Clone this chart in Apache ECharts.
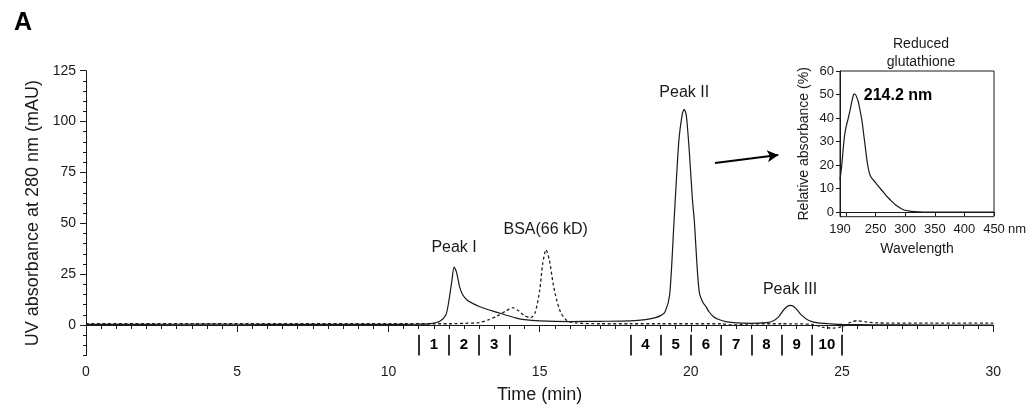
<!DOCTYPE html>
<html>
<head>
<meta charset="utf-8">
<script src="https://cdn.jsdelivr.net/npm/echarts@6/dist/echarts.min.js"></script>
<style>
  html, body { margin: 0; padding: 0; background: #fff; }
  #chart { width: 1032px; height: 412px; }
</style>
</head>
<body>
<div id="chart"></div>
<script>
// sample run (solid line)
const TIME_SAMPLE = [0, 2, 4, 6, 8, 10, 11, 11.4, 11.7, 11.9, 12.0, 12.1, 12.17, 12.25, 12.35, 12.45, 12.6, 12.8, 13.0, 13.3, 13.6, 13.9, 14.2, 14.5, 15.0, 16.0, 17.0, 18.0, 18.5, 18.8, 19.0, 19.15, 19.3, 19.44, 19.6, 19.72, 19.78, 19.85, 19.95, 20.05, 20.12, 20.2, 20.28, 20.4, 20.5, 20.6, 20.74, 20.9, 21.2, 21.5, 22.0, 22.5, 22.7, 22.9, 23.1, 23.28, 23.45, 23.65, 23.9, 24.2, 24.6, 25, 26, 28, 30]
const UV_SAMPLE = [0.3, 0.3, 0.4, 0.3, 0.3, 0.3, 0.4, 0.7, 1.8, 5, 12, 22, 28.5, 26, 19, 15, 12.3, 10.5, 9.1, 7.5, 6.2, 4.8, 3.5, 2.6, 2.0, 1.7, 1.8, 2.0, 2.6, 3.5, 4.6, 6.5, 15, 50, 90, 104, 106, 103, 85, 62, 50, 30, 16, 11, 9, 6.5, 4.2, 2.8, 1.5, 1.0, 0.8, 1.2, 1.8, 4, 8, 9.6, 8.5, 5, 2.2, 1.0, 0.6, 0.3, 0.1, 0, 0]

// BSA standard (dashed line)
const TIME_BSA = [0, 5, 10, 12, 12.5, 13.0, 13.3, 13.6, 13.9, 14.1, 14.3, 14.5, 14.7, 14.85, 15.0, 15.1, 15.21, 15.32, 15.45, 15.56, 15.7, 15.9, 16.2, 17, 18, 19, 20, 21, 21.4, 21.8, 22, 23, 24, 24.4, 24.7, 25.0, 25.3, 25.5, 25.8, 26.2, 28, 30]
const UV_BSA = [0.6, 0.6, 0.6, 0.6, 0.8, 1.2, 2.5, 4.5, 7, 8.5, 7, 4.5, 3.6, 6, 17, 30, 37, 32, 20, 12.4, 6, 2.2, 1.0, 0.6, 0.6, 0.6, 0.6, 0.6, 0, 0.4, 0.6, 0.6, 0.3, -1.2, -1.5, -0.8, 1.5, 2.1, 1.5, 1.0, 0.9, 0.9]

// inset spectrum
const WAVELENGTH = [190, 193, 195.7, 198, 200.3, 204, 207, 210, 212.8, 214.2, 216, 218, 221, 224, 227, 230, 232.7, 235.5, 238.4, 241, 244, 250, 258, 264, 269.8, 277, 284, 291, 298, 307, 315, 330, 350, 400, 450]
const REL_ABS = [13.6, 20, 27.7, 33, 36.2, 40, 43.3, 47, 49.9, 50.2, 50, 49, 46.8, 43, 39, 33, 27.7, 22, 17.8, 15.5, 14.3, 12.5, 10, 8.2, 6.5, 4.6, 3, 1.8, 0.85, 0.35, 0.15, 0, 0, 0, 0]

// fractions collected
const FRACTION_EDGES = [11, 12, 13, 14, 18, 19, 20, 21, 22, 23, 24, 25]
const FRACTION_NAMES = ['1', '2', '3', '4', '5', '6', '7', '8', '9', '10']
const FRACTION_CENTERS = [11.5, 12.5, 13.5, 18.5, 19.5, 20.5, 21.5, 22.5, 23.5, 24.5]

// peak annotations
const PEAK_NAMES = ['Peak I', 'BSA(66 kD)', 'Peak II', 'Peak III']
const PEAK_AT = [[12.17, 38], [15.2, 46.8], [19.78, 114.2], [23.28, 17.4]]

// arrow pointing to the inset
const ARROW_FROM = [20.8, 79.6]
const ARROW_TO = [22.89, 83.6]

// tick labels
const Y_LABELS = [0, 25, 50, 75, 100, 125]
const INSET_X_LABELS = [190, 250, 300, 350, 400, 450]
const INSET_X_TICKS = [200, 250, 300, 350, 400, 450]
const INSET_Y_LABELS = [0, 10, 20, 30, 40, 50, 60]

const FONT = "'Liberation Sans', Arial, sans-serif"
const INK = '#1a1a1a'

const zip = (xs, ys) => xs.map((x, i) => [x, ys[i]])

let myChart = echarts.init(document.getElementById('chart'))

const axisLine = { show: true, lineStyle: { color: INK, width: 1 } }
const tickStyle = { color: INK, width: 1 }

let option = {
    animation: false,
    backgroundColor: '#fff',
    textStyle: { fontFamily: FONT },
    title: [{
        text: 'A',
        left: 9,
        top: 6,
        textStyle: { fontSize: 25, fontWeight: 'bold', color: '#000', fontFamily: FONT }
    }, {
        text: 'Reduced\nglutathione',
        left: 916,
        top: 30,
        textAlign: 'center',
        textStyle: { fontSize: 14, fontWeight: 'normal', color: INK, lineHeight: 18, fontFamily: FONT }
    }],
    grid: [{
        left: 86, top: 70.7, right: 38.7, height: 284.8
    }, {
        left: 840, top: 71, width: 154, height: 145.7,
        show: true, borderColor: INK, borderWidth: 1, backgroundColor: 'transparent'
    }],
    xAxis: [{
        gridIndex: 0,
        type: 'value',
        min: 0, max: 30, interval: 5,
        axisLine: axisLine,
        axisTick: { length: 7, lineStyle: tickStyle },
        minorTick: { show: true, splitNumber: 10, length: 4, lineStyle: tickStyle },
        splitLine: { show: false },
        axisLabel: { fontSize: 14, color: INK, margin: 10 },
        name: 'Time (min)',
        nameLocation: 'middle',
        nameGap: 31,
        nameTextStyle: { fontSize: 18, color: INK }
    }, {
        gridIndex: 1,
        type: 'value',
        min: 190, max: 450,
        axisLine: axisLine,
        axisTick: { customValues: INSET_X_TICKS, length: 4, lineStyle: tickStyle },
        splitLine: { show: false },
        axisLabel: { customValues: INSET_X_LABELS, fontSize: 13, color: INK, margin: 6 },
        name: 'Wavelength',
        nameLocation: 'middle',
        nameGap: 25,
        nameTextStyle: { fontSize: 14, color: INK }
    }],
    yAxis: [{
        gridIndex: 0,
        type: 'value',
        position: 'left',
        min: -15, max: 125,
        axisLine: axisLine,
        axisTick: { customValues: Y_LABELS, length: 6, lineStyle: tickStyle },
        axisLabel: { customValues: Y_LABELS, fontSize: 14, color: INK, margin: 10 },
        splitLine: { show: false },
        name: 'UV absorbance at 280 nm (mAU)',
        nameLocation: 'middle',
        nameGap: 38,
        nameTextStyle: { fontSize: 18, color: INK }
    }, {
        // minor ticks every 5 mAU
        gridIndex: 0,
        type: 'value',
        position: 'left',
        offset: 0,
        min: -15, max: 125, interval: 5,
        axisLine: { show: false },
        axisTick: { length: 3, lineStyle: tickStyle },
        axisLabel: { show: false },
        splitLine: { show: false }
    }, {
        gridIndex: 1,
        type: 'value',
        min: -2, max: 60,
        axisLine: axisLine,
        axisTick: { customValues: INSET_Y_LABELS, length: 4, lineStyle: tickStyle },
        axisLabel: { customValues: INSET_Y_LABELS, fontSize: 13, color: INK, margin: 6 },
        splitLine: { show: false },
        name: 'Relative absorbance (%)',
        nameLocation: 'middle',
        nameGap: 29,
        nameTextStyle: { fontSize: 14, color: INK }
    }],
    graphic: [{
        type: 'text',
        left: 1008,
        top: 223,
        style: { text: 'nm', fontSize: 13, fill: INK, fontFamily: FONT }
    }],
    series: [{
        name: 'BSA',
        type: 'line',
        xAxisIndex: 0, yAxisIndex: 0,
        data: zip(TIME_BSA, UV_BSA),
        showSymbol: false,
        smooth: 0.25,
        lineStyle: { color: '#222', width: 1.3, type: [3, 2.5] },
        silent: true
    }, {
        name: 'Sample',
        type: 'line',
        xAxisIndex: 0, yAxisIndex: 0,
        data: zip(TIME_SAMPLE, UV_SAMPLE),
        showSymbol: false,
        smooth: 0.25,
        lineStyle: { color: INK, width: 1.2 },
        silent: true,
        markLine: {
            silent: true,
            symbol: 'none',
            label: { show: false },
            lineStyle: { color: '#000', width: 1.6, type: 'solid' },
            data: FRACTION_EDGES.map(x => [{ coord: [x, -4.8] }, { coord: [x, -15] }])
                .concat([[
                    { coord: ARROW_FROM, symbol: 'none', lineStyle: { width: 2 } },
                    { coord: ARROW_TO, symbol: 'arrow', symbolSize: [9, 11], lineStyle: { width: 2 } }
                ]])
        },
        markPoint: {
            silent: true,
            symbol: 'circle',
            symbolSize: 0,
            data: PEAK_NAMES.map((name, i) => ({
                coord: PEAK_AT[i],
                label: { show: true, formatter: name, fontSize: 16, color: INK, position: 'inside' }
            })).concat(FRACTION_NAMES.map((name, i) => ({
                coord: [FRACTION_CENTERS[i], -9.8],
                label: { show: true, formatter: name, fontSize: 15, fontWeight: 'bold', color: '#000', position: 'inside' }
            })))
        }
    }, {
        name: 'Spectrum',
        type: 'line',
        xAxisIndex: 1, yAxisIndex: 2,
        data: zip(WAVELENGTH, REL_ABS),
        showSymbol: false,
        smooth: 0.3,
        lineStyle: { color: INK, width: 1.2 },
        silent: true,
        markPoint: {
            silent: true,
            symbol: 'circle',
            symbolSize: 0,
            data: [{
                coord: [288, 49.5],
                label: { show: true, formatter: '214.2 nm', fontSize: 16, fontWeight: 'bold', color: '#000', position: 'inside' }
            }]
        }
    }]
}

myChart.setOption(option)
</script>
</body>
</html>
